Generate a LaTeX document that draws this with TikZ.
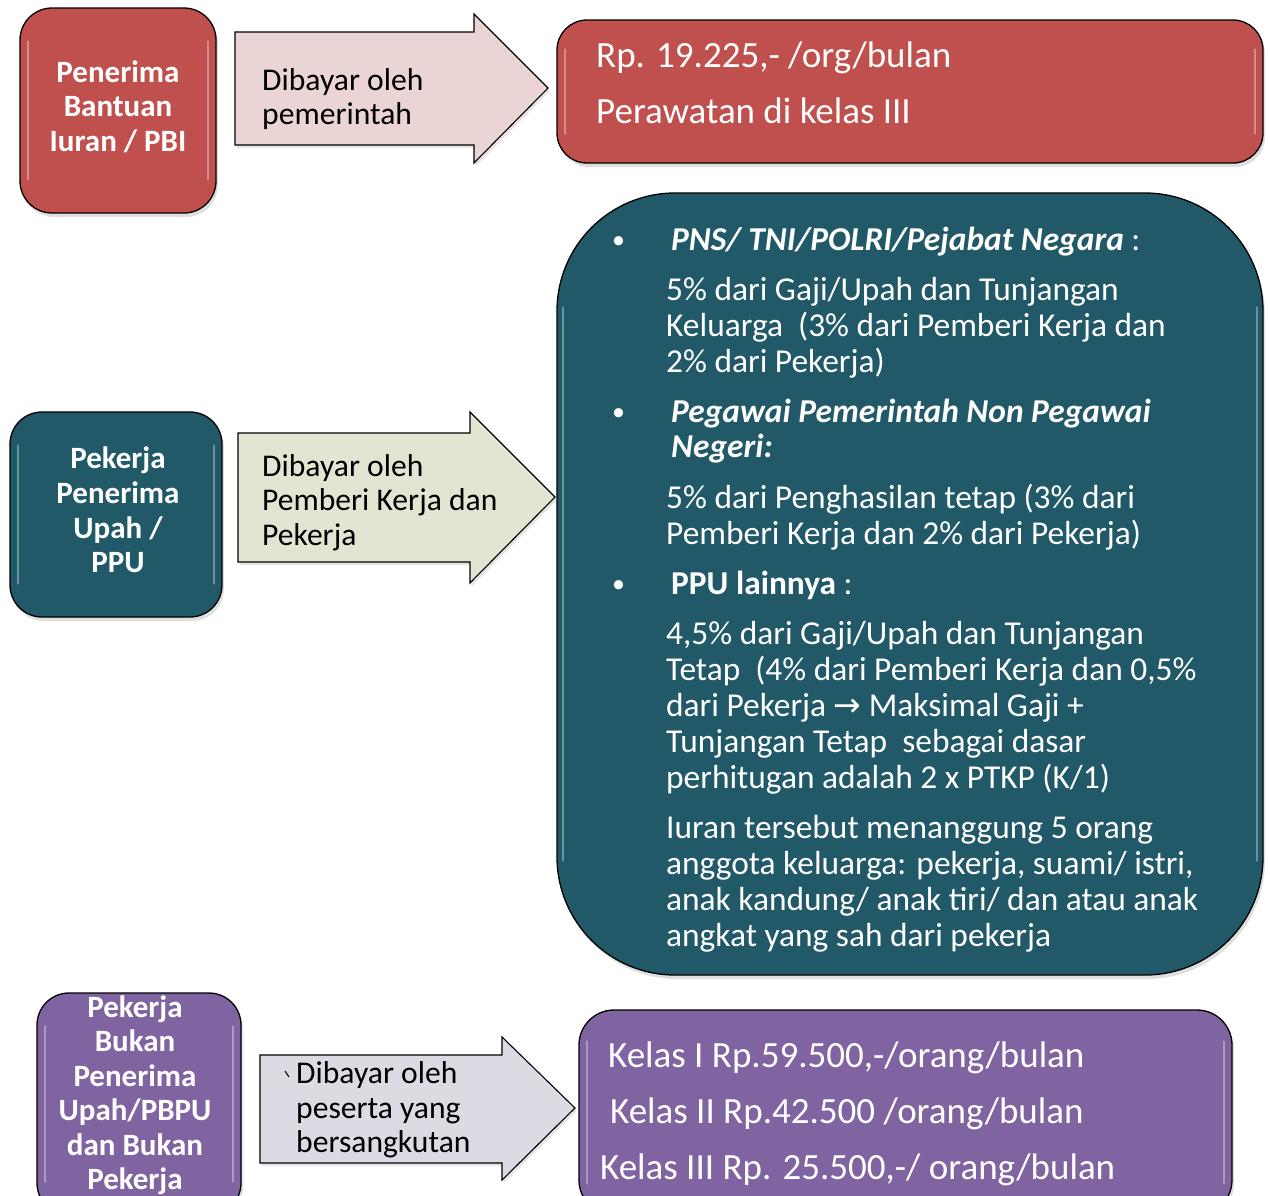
\documentclass[tikz,border=0pt]{standalone}
\usepackage{fontspec}
\setmainfont{Carlito}
\newfontfamily\djv{DejaVu Sans}
\usetikzlibrary{shadows,calc}
\definecolor{redf}{HTML}{C0504D}
\definecolor{tealf}{HTML}{215968}
\definecolor{purf}{HTML}{8064A2}
\definecolor{arrA}{HTML}{EAD4D4}
\definecolor{arrB}{HTML}{E0E6D2}
\definecolor{arrC}{HTML}{DDDAE4}
\newcommand{\glossy}[3]{%
  \draw[glossline] ($(#1.north west)+(#2,#3)$) -- ($(#1.south west)+(#2,-#3)$);
  \draw[glossline] ($(#1.north east)+(-#2,#3)$) -- ($(#1.south east)+(-#2,-#3)$);}
\begin{document}
\begin{tikzpicture}[x=1pt,y=-1pt,
  box/.style={draw=black, line width=1.3pt, rectangle, inner sep=0pt,
    drop shadow={shadow xshift=2pt, shadow yshift=-4pt, opacity=0.25}},
  blockarrow/.style={draw=black, line width=1.1pt, line join=miter,
    drop shadow={shadow xshift=2pt, shadow yshift=-3pt, opacity=0.2}},
  glossline/.style={white, opacity=0.35, line width=2pt, line cap=round},
  lefttxt/.style={anchor=base, inner sep=0pt, text=white, font=\fontsize{31}{34}\selectfont\bfseries},
  arrtxt/.style={anchor=base west, inner sep=0pt, text=black, font=\fontsize{31.6}{34}\selectfont},
  bigtxt/.style={anchor=base west, inner sep=0pt, text=white, font=\fontsize{37}{40}\selectfont},
  bodytxt/.style={anchor=base west, inner sep=0pt, text=white, font=\fontsize{33.4}{36}\selectfont},
  bullettxt/.style={anchor=base west, inner sep=0pt, text=white, font=\fontsize{26}{30}\selectfont},
]
\useasboundingbox (0,0) rectangle (1270,1195);
\clip (0,0) rectangle (1270,1195);
\fill[white] (0,0) rectangle (1270,1195);

% ---------- boxes ----------
\node[box, fill=redf, minimum width=196pt, minimum height=205pt, rounded corners=32pt] (pbi) at (118,110.5) {};
\node[box, fill=redf, minimum width=706pt, minimum height=143pt, rounded corners=30pt] (pbires) at (910,91.5) {};
\node[box, fill=tealf, minimum width=212pt, minimum height=205pt, rounded corners=32pt] (ppu) at (116,514.5) {};
\node[box, fill=tealf, minimum width=706pt, minimum height=782pt, rounded corners=118pt] (ppures) at (910,584) {};
\node[box, fill=purf, minimum width=204pt, minimum height=222pt, rounded corners=32pt] (pbpu) at (139,1104) {};
\node[box, fill=purf, minimum width=653pt, minimum height=205pt, rounded corners=35pt] (pbpures) at (905.5,1112.5) {};

\glossy{pbi}{9}{34}
\glossy{pbires}{9}{30}
\glossy{ppu}{9}{34}
\glossy{ppures}{7}{115}
\glossy{pbpu}{9}{34}
\glossy{pbpures}{9}{32}

% ---------- block arrows ----------
\draw[blockarrow, fill=arrA] (235,32) -- (474,32) -- (474,14) -- (548,88) -- (474,163) -- (474,145) -- (235,145) -- cycle;
\draw[blockarrow, fill=arrB] (238,433) -- (470,433) -- (470,412) -- (555,497) -- (470,583) -- (470,562) -- (238,562) -- cycle;
\draw[blockarrow, fill=arrC] (260,1055) -- (502,1055) -- (502,1037) -- (575,1108) -- (502,1180) -- (502,1163) -- (260,1163) -- cycle;
\draw[line width=1pt] (285,1071) -- (289,1077);

% ---------- left box texts ----------
\node[lefttxt] (l1a) at (118,82) {Penerima};
\node[lefttxt] (l1b) at (118,116) {Bantuan};
\node[lefttxt] (l1c) at (118,151) {Iuran / PBI};

\node[lefttxt] (l2a) at (118,468) {Pekerja};
\node[lefttxt] (l2b) at (118,503) {Penerima};
\node[lefttxt] (l2c) at (118,538) {Upah /};
\node[lefttxt] (l2d) at (118,572) {PPU};

\node[lefttxt] (l3a) at (135,1017) {Pekerja};
\node[lefttxt] (l3b) at (135,1051) {Bukan};
\node[lefttxt] (l3c) at (135,1086) {Penerima};
\node[lefttxt] (l3d) at (135,1120) {Upah/PBPU};
\node[lefttxt] (l3e) at (135,1155) {dan Bukan};
\node[lefttxt] (l3f) at (135,1189) {Pekerja};

% ---------- arrow texts ----------
\node[arrtxt] (a1a) at (262,90) {Dibayar oleh};
\node[arrtxt] (a1b) at (262,124) {pemerintah};
\node[arrtxt] (a2a) at (262,476) {Dibayar oleh};
\node[arrtxt] (a2b) at (262,510) {Pemberi Kerja dan};
\node[arrtxt] (a2c) at (262,545) {Pekerja};
\node[arrtxt] (a3a) at (296,1083) {Dibayar oleh};
\node[arrtxt] (a3b) at (296,1118) {peserta yang};
\node[arrtxt] (a3c) at (296,1152) {bersangkutan};

% ---------- red result ----------
\node[bigtxt] (r1) at (596,67) {Rp. 19.225,- /org/bulan};
\node[bigtxt] (r2) at (596,123) {Perawatan di kelas III};

% ---------- teal result ----------
\node[bullettxt] (b1) at (612,248) {•};
\node[bodytxt] (h1) at (671,250) {\bfseries\itshape PNS/ TNI/POLRI/Pejabat Negara\normalfont\ :};
\node[bodytxt] (t1a) at (666,300) {5\% dari Gaji/Upah dan Tunjangan};
\node[bodytxt] (t1b) at (666,336) {Keluarga~ (3\% dari Pemberi Kerja dan};
\node[bodytxt] (t1c) at (666,372) {2\% dari Pekerja)};
\node[bullettxt] (b2) at (612,420) {•};
\node[bodytxt] (h2a) at (671,422) {\bfseries\itshape Pegawai Pemerintah Non Pegawai};
\node[bodytxt] (h2b) at (671,457) {\bfseries\itshape Negeri:};
\node[bodytxt] (t2a) at (666,508) {5\% dari Penghasilan tetap (3\% dari};
\node[bodytxt] (t2b) at (666,544) {Pemberi Kerja dan 2\% dari Pekerja)};
\node[bullettxt] (b3) at (612,592) {•};
\node[bodytxt] (h3) at (671,594) {\bfseries PPU lainnya\normalfont\ :};
\node[bodytxt] (t3a) at (666,644) {4,5\% dari Gaji/Upah dan Tunjangan};
\node[bodytxt] (t3b) at (666,680) {Tetap~ (4\% dari Pemberi Kerja dan 0,5\%};
\node[bodytxt] (t3c) at (666,716) {dari Pekerja {\djv\fontsize{33}{34}\selectfont →} Maksimal Gaji +};
\node[bodytxt] (t3d) at (666,752) {Tunjangan Tetap~ sebagai dasar};
\node[bodytxt] (t3e) at (666,788) {perhitugan adalah 2 x PTKP (K/1)};
\node[bodytxt] (t4a) at (666,838) {Iuran tersebut menanggung 5 orang};
\node[bodytxt] (t4b) at (666,874) {anggota keluarga: pekerja, suami/ istri,};
\node[bodytxt] (t4c) at (666,910) {anak kandung/ anak tiri/ dan atau anak};
\node[bodytxt] (t4d) at (666,946) {angkat yang sah dari pekerja};

% ---------- purple result ----------
\node[bigtxt] (p1) at (608,1067) {Kelas I Rp.59.500,-/orang/bulan};
\node[bigtxt] (p2) at (610,1123) {Kelas II Rp.42.500 /orang/bulan};
\node[bigtxt] (p3) at (600,1179) {Kelas III Rp. 25.500,-/ orang/bulan};
\end{tikzpicture}
\end{document}
